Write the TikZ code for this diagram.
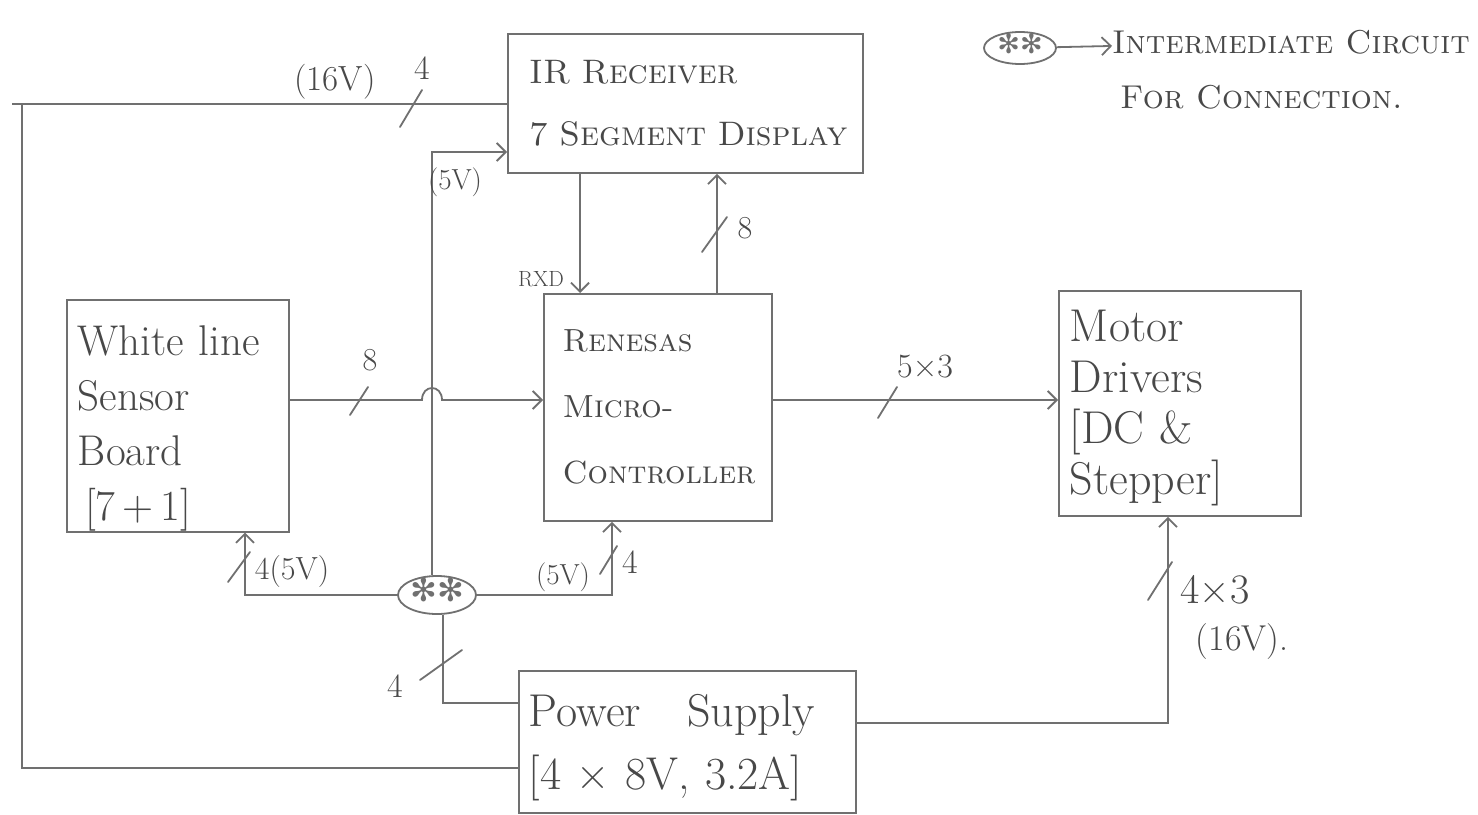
\documentclass[tikz,border=0pt]{standalone}
\usepackage{fontspec}
\newfontfamily\symf{DejaVu Sans}
\usetikzlibrary{arrows.meta,shapes.geometric}
\definecolor{ink}{HTML}{707070}
\definecolor{txt}{HTML}{484848}
\newcommand\myfs[2]{\fontsize{#1}{#2}\selectfont}
\newcommand\stars[1]{\smash{\makebox[0pt]{\symf\myfs{#1}{#1}✻✻}}}
\tikzset{
  box/.style={draw=ink,line width=1.8pt,anchor=north west,align=left,text=txt,inner xsep=14pt,inner ysep=0pt},
  wire/.style={draw=ink,line width=1.8pt},
  arr/.style={wire,-{Straight Barb[length=9pt,width=18pt,line width=1.8pt]}},
  tick/.style={draw=ink,line width=1.8pt,line cap=round},
  lbl/.style={text=txt,inner sep=0pt},
  joint/.style={ellipse,draw=ink,line width=1.8pt,inner sep=0pt,text=ink}
}
\begin{document}
\begin{tikzpicture}[x=1pt,y=-1pt]
\useasboundingbox[fill=white] (0,0) rectangle (1478,814);
% boxes
\node[box,minimum width=355pt,minimum height=139pt,text width=335pt,inner xsep=10pt,font=\myfs{34}{62}] (ir) at (507,33)
  {\mbox{\ \textsc{IR Receiver}}\\\mbox{\ \textsc{7 Segment Display}}};
\node[box,minimum width=222pt,minimum height=223pt,text width=200pt,inner xsep=11pt,font=\myfs{43}{55}] (sen) at (66,299)
  {\rule{0pt}{56pt}\mbox{White line}\\Sensor\\Board\\\,[7\,+\,1]};
\node[box,minimum width=228pt,minimum height=227pt,text width=212pt,inner xsep=8pt,font=\myfs{32}{66}] (ren) at (543,293)
  {\mbox{\ \textsc{Renesas}}\\\mbox{\ \textsc{Micro-}}\\\mbox{\ \textsc{Controller}}};
\node[box,minimum width=242pt,minimum height=225pt,text width=220pt,inner xsep=11pt,font=\myfs{46}{51}] (mot) at (1058,290)
  {\rule{0pt}{40pt}Motor\\Drivers\\{}[DC \&\\Stepper]};
\node[box,minimum width=337pt,minimum height=142pt,text width=317pt,inner xsep=10pt,font=\myfs{46}{63}] (ps) at (518,670)
  {\rule{0pt}{44pt}\mbox{Power\quad Supply}\\\mbox{[4 × 8V, 3.2A]}};
\node[joint,minimum width=78pt,minimum height=38pt] (ic) at (437,595) {\raisebox{-13pt}{\stars{32}}};
% legend
\node[joint,minimum width=72pt,minimum height=32pt] (leg) at (1020,48) {\raisebox{-11pt}{\stars{27}}};
\node[lbl,anchor=west,font=\myfs{33}{33}] (legt1) at (1112,42) {\textsc{Intermediate Circuit}};
\node[lbl,anchor=west,font=\myfs{33}{33}] (legt2) at (1120,97) {\textsc{For Connection.}};
\draw[arr] (leg) -- (legt1);
% helper coordinates
\coordinate (xr) at (580,0);
\coordinate (x8) at (717,0);
\coordinate (ys) at (0,400);
\coordinate (y104) at (0,104);
\coordinate (y152) at (0,152);
\coordinate (y768) at (0,768);
\coordinate (y703) at (0,703);
\coordinate (y723) at (0,723);
\coordinate (x245) at (245,0);
\coordinate (x612) at (612,0);
\coordinate (x1168) at (1168,0);
\coordinate (lt) at (12,104);
\coordinate (lc) at (22,104);
\coordinate (lb) at (22,768);
% connectors
\draw[arr] (ir.south -| xr) -- (ren.north -| xr);
\draw[arr] (ren.north -| x8) -- (ir.south -| x8);
\draw[arr] (sen.east |- ys) -- (422,400) .. controls (422,384) and (442,384) .. (442,400) -- (ren.west |- ys);
\draw[arr] (ren.east |- ys) -- (mot.west |- ys);
\draw[wire] (ir.west |- y104) -- (lt);
\draw[wire] (lc) -- (lb) -- (ps.west |- y768);
\draw[arr] ([xshift=-5pt]ic.north) |- (ir.west |- y152);
\draw[arr] (ic.west) -| (sen.south -| x245);
\draw[arr] (ic.east) -| (ren.south -| x612);
\draw[wire] ([xshift=6pt]ic.south) |- (ps.west |- y703);
\draw[arr] (ps.east |- y723) -| (mot.south -| x1168);
% bus ticks
\draw[tick] (400,127) -- (422,90);
\draw[tick] (350,415) -- (368,387);
\draw[tick] (702,252) -- (727,217);
\draw[tick] (878,418) -- (897,387);
\draw[tick] (228,582) -- (250,552);
\draw[tick] (600,574) -- (617,546);
\draw[tick] (420,680) -- (462,650);
\draw[tick] (1148,600) -- (1172,562);
% labels
\node[lbl,font=\myfs{35}{35}] (l16) at (335,82) {(16V)};
\node[lbl,font=\myfs{34}{34}] (l4a) at (422,68) {4};
\node[lbl,font=\myfs{29}{29}] (l5a) at (455,182) {(5V)};
\node[lbl,font=\myfs{22}{22}] (lrxd) at (541,279) {RXD};
\node[lbl,font=\myfs{32}{32}] (l8a) at (745,228) {8};
\node[lbl,font=\myfs{32}{32}] (l8b) at (370,360) {8};
\node[lbl,font=\myfs{34}{34}] (l53) at (925,367) {5×3};
\node[lbl,font=\myfs{32}{32}] (l45) at (292,572) {4(5V)};
\node[lbl,font=\myfs{29}{29}] (l5b) at (563,577) {(5V)};
\node[lbl,font=\myfs{34}{34}] (l4b) at (630,562) {4};
\node[lbl,font=\myfs{34}{34}] (l4c) at (395,686) {4};
\node[lbl,font=\myfs{42}{42}] (l43) at (1215,590) {4×3};
\node[lbl,font=\myfs{36}{36}] (l16b) at (1242,642) {(16V).};
\end{tikzpicture}
\end{document}
